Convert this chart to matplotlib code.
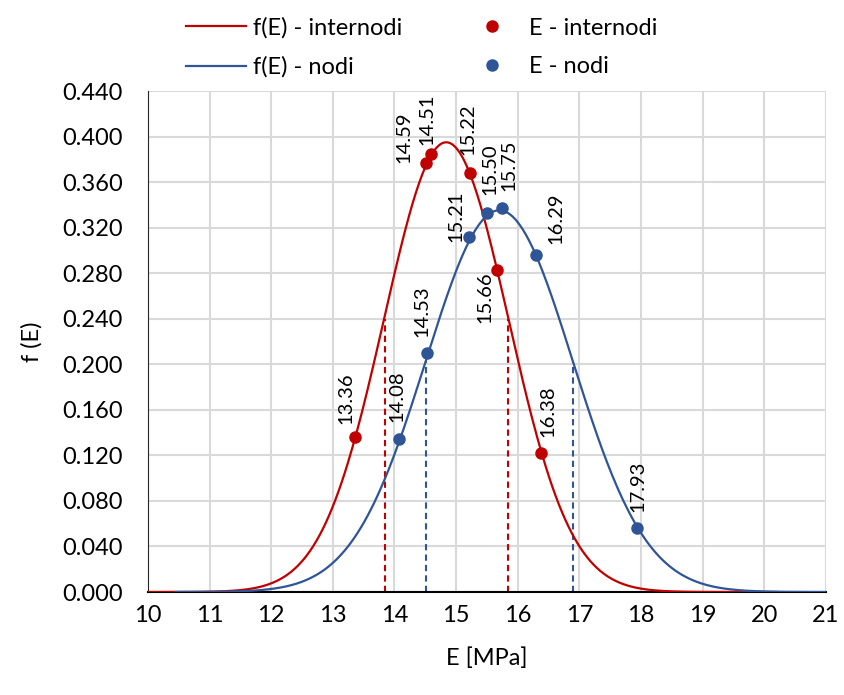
import numpy as np
import matplotlib.pyplot as plt

# parametri delle distribuzioni normali
media_int = 14.84
dev_int = 1.01
media_nodi = 15.70
dev_nodi = 1.19

# punti misurati
E_int = [13.36, 14.51, 14.59, 15.22, 15.66, 16.38]
f_int = [0.136, 0.377, 0.385, 0.368, 0.283, 0.122]
E_nodi = [14.08, 14.53, 15.21, 15.50, 15.75, 16.29, 17.93]
f_nodi = [0.134, 0.210, 0.312, 0.333, 0.337, 0.296, 0.056]

# linee tratteggiate (media +/- dev. std.)
x_tr_int = [13.84, 15.84]
y_tr_int = [0.240, 0.240]
x_tr_nodi = [14.51, 16.89]
y_tr_nodi = [0.203, 0.203]

# posizione etichette (offset in pixel, allineamento verticale)
off_int = [(-9, 13, 'bottom'), (1, 18, 'bottom'), (-27, -9, 'bottom'),
           (-2, 18, 'bottom'), (-12, -2, 'top'), (7, 16, 'bottom')]
off_nodi = [(-3, 17, 'bottom'), (-5, 16, 'bottom'), (-13, -5, 'bottom'),
            (3, 18, 'bottom'), (7, 17, 'bottom'), (20, 11, 'bottom'), (1, 16, 'bottom')]

rosso = '#C00000'
blu = '#2F5597'

plt.rcParams['font.family'] = ['Lato', 'DejaVu Sans']


def gauss(x, m, s):
    return np.exp(-0.5 * ((x - m) / s) ** 2) / (s * np.sqrt(2 * np.pi))


fig = plt.figure(figsize=(8.45, 6.95), dpi=100)
ax = fig.add_axes([0.175, 0.1482, 0.8025, 0.7208])

x_int = np.linspace(10, 20.2, 400)
x_nodi = np.linspace(10.45, 21, 400)
l1, = ax.plot(x_int, gauss(x_int, media_int, dev_int), color=rosso, lw=1.6, zorder=3)
l2, = ax.plot(x_nodi, gauss(x_nodi, media_nodi, dev_nodi), color=blu, lw=1.6, zorder=4)

for x, y in zip(x_tr_int, y_tr_int):
    ax.plot([x, x], [0, y], color=rosso, lw=1.5, ls=(0, (3, 2)), zorder=2)
for x, y in zip(x_tr_nodi, y_tr_nodi):
    ax.plot([x, x], [0, y], color=blu, lw=1.5, ls=(0, (3, 2)), zorder=2)

p1, = ax.plot(E_int, f_int, 'o', color=rosso, ms=8, zorder=5)
p2, = ax.plot(E_nodi, f_nodi, 'o', color=blu, ms=8, zorder=5)

for E, f, (dx, dy, va) in zip(E_int, f_int, off_int):
    ax.annotate('%.2f' % E, (E, f), xytext=(dx * 0.72, dy * 0.72), textcoords='offset points',
                rotation=90, ha='center', va=va, fontsize=14.5)
for E, f, (dx, dy, va) in zip(E_nodi, f_nodi, off_nodi):
    ax.annotate('%.2f' % E, (E, f), xytext=(dx * 0.72, dy * 0.72), textcoords='offset points',
                rotation=90, ha='center', va=va, fontsize=14.5)

ax.set_xlim(10, 21)
ax.set_ylim(0, 0.44)
ax.set_xticks(np.arange(10, 22, 1))
ax.set_yticks(np.arange(0, 0.441, 0.04))
ax.set_yticklabels(['%.3f' % v for v in np.arange(0, 0.441, 0.04)])
ax.tick_params(length=0, labelsize=17)
ax.tick_params(axis='y', pad=18)
ax.tick_params(axis='x', pad=9)
ax.grid(True, color='#D9D9D9', lw=1.5)
ax.set_axisbelow(True)
for s in ['top', 'right']:
    ax.spines[s].set_visible(False)
ax.spines['left'].set_color('#262626')
ax.spines['bottom'].set_color('black')
ax.spines['bottom'].set_linewidth(1.5)
ax.set_xlabel('E [MPa]', fontsize=17, labelpad=16)
ax.set_ylabel('f (E)', fontsize=17, labelpad=14)

fig.legend([l1, l2, p1, p2], ['f(E) - internodi', 'f(E) - nodi', 'E - internodi', 'E - nodi'],
           ncol=2, loc='upper left', bbox_to_anchor=(0.195, 1.006), frameon=False, fontsize=17,
           handlelength=2.55, handletextpad=0.3, columnspacing=2.5, labelspacing=0.75)

fig.savefig('out.png')
